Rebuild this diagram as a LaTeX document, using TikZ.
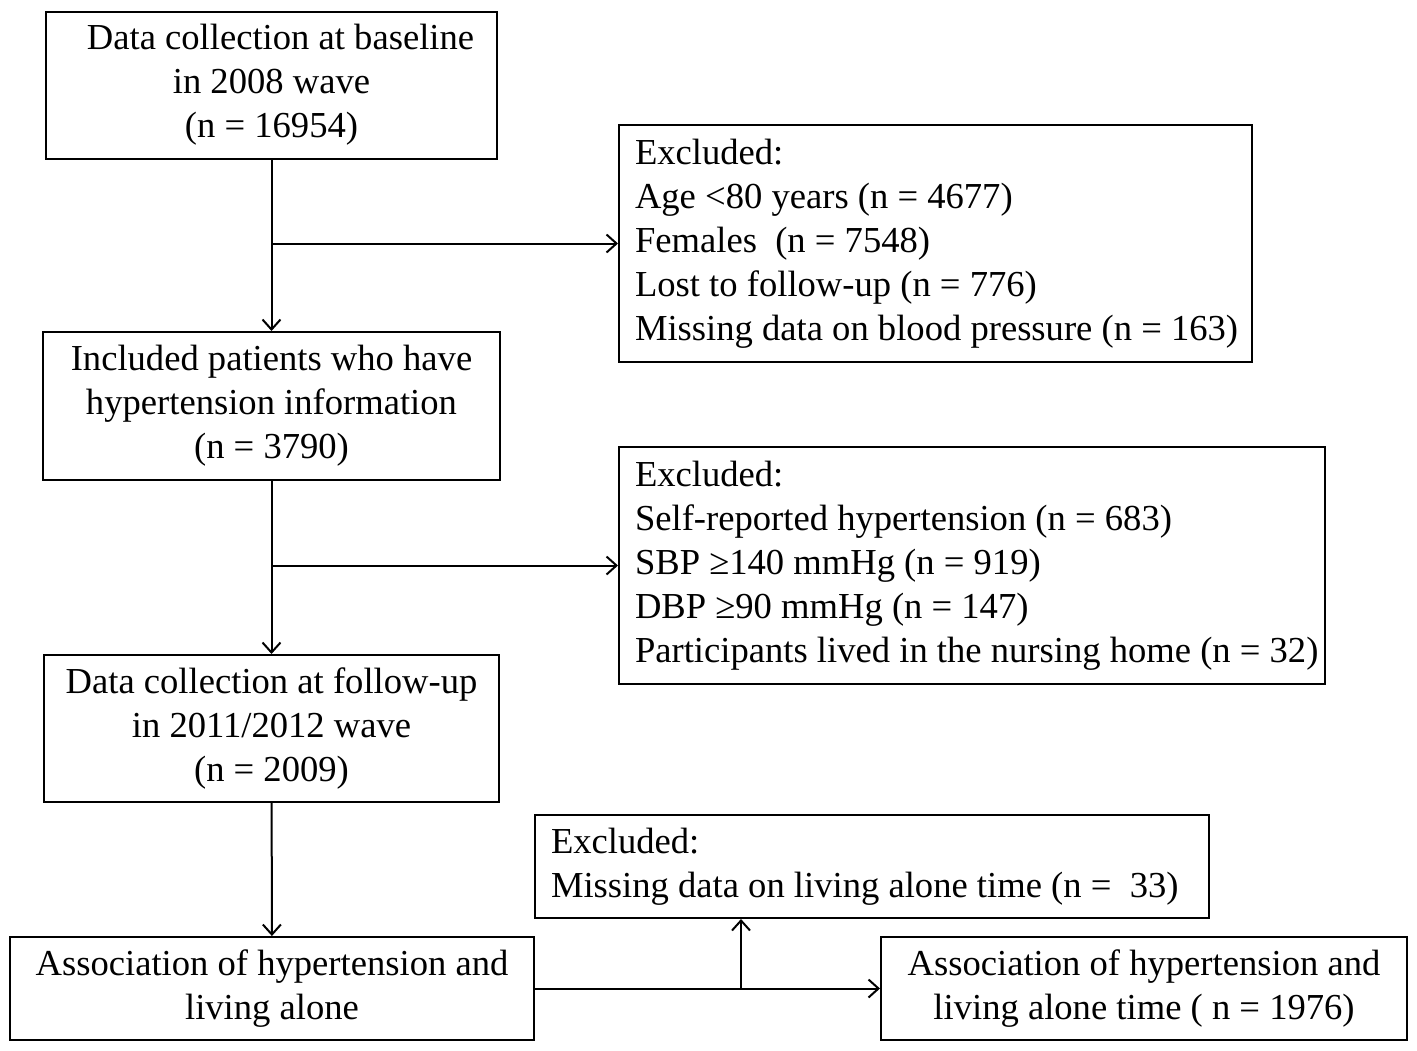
\documentclass[tikz,border=0pt]{standalone}
\usepackage{fontspec}
\setmainfont{Liberation Serif}
\usetikzlibrary{arrows.meta}
\tikzstyle{stage}=[draw, line width=1pt, align=center, inner sep=0, font=\fontsize{18.3}{22}\selectfont]
\tikzstyle{excl}=[draw, line width=1pt, align=flush left, inner xsep=8pt, inner ysep=0, font=\fontsize{18.3}{22}\selectfont]
\tikzstyle{flow}=[line width=1pt, -{Straight Barb[length=5pt, width=9pt]}]

\begin{document}
\begin{tikzpicture}[x=0.5pt, y=-0.5pt]
\useasboundingbox (0,0) rectangle (1417,1050);

\node [stage, minimum width=225.5pt, minimum height=73.5pt] (base)  at (271.5,  85  ) {\hspace*{9pt}Data collection at baseline\\in 2008 wave\\(n = 16954)};
\node [stage, minimum width=228.5pt, minimum height=74pt  ] (incl)  at (271.5, 406  ) {Included patients who have\\hypertension information\\(n = 3790)};
\node [stage, minimum width=227.5pt, minimum height=73.5pt] (fup)   at (271.5, 728.5) {Data collection at follow-up\\in 2011/2012 wave\\(n = 2009)};
\node [stage, minimum width=262pt,   minimum height=51.5pt] (assoc) at (272  , 988.5) {Association of hypertension and\\living alone};
\node [stage, minimum width=263pt,   minimum height=51.5pt] (atime) at (1144 , 988.5) {Association of hypertension and\\living alone time ( n = 1976)};

\node [excl, text width=300.5pt, minimum height=118.5pt] (ex1) at (935.5, 243.5) {Excluded:\\Age <80 years (n = 4677)\\Females\ \ (n = 7548)\\Lost to follow-up (n = 776)\\\mbox{Missing data on blood pressure (n = 163)}};
\node [excl, text width=337pt,   minimum height=118.5pt] (ex2) at (972  , 565.5) {Excluded:\\Self-reported hypertension (n = 683)\\SBP ≥140 mmHg (n = 919)\\DBP ≥90 mmHg (n = 147)\\\mbox{Participants lived in the nursing home (n = 32)}};
\node [excl, text width=321pt,   minimum height=51.5pt ] (ex3) at (872  , 866.5) {Excluded:\\Missing data on living alone time (n =\ \ 33)};

\coordinate (j1) at (271.5, 243.5);
\coordinate (j2) at (271.5, 565.5);
\coordinate (j3) at (741  , 988.5);

\draw [flow] (base)  -- (incl);
\draw [flow] (j1)    -- (ex1);
\draw [flow] (incl)  -- (fup);
\draw [flow] (j2)    -- (ex2);
\draw [flow] (fup)   -- (assoc);
\draw [flow] (assoc) -- (atime);
\draw [flow] (j3)    -- (j3 |- ex3.south);

\end{tikzpicture}
\end{document}
